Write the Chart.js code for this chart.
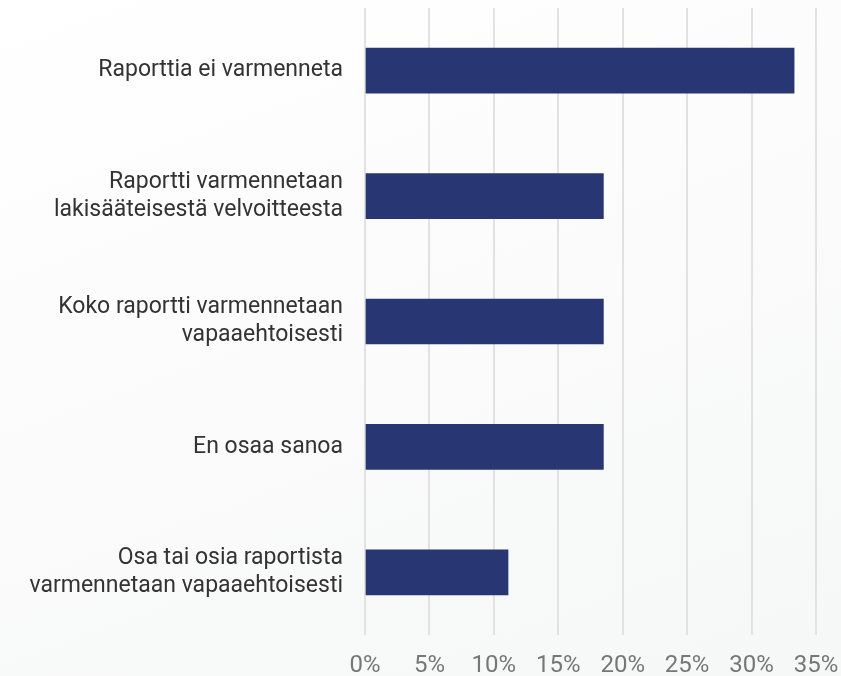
<!DOCTYPE html>
<html>
<head>
<meta charset="utf-8">
<script src="https://cdn.jsdelivr.net/npm/chart.js@4"></script>
<style>
  html, body { margin: 0; padding: 0; }
  body {
    width: 841px; height: 676px;
    background: linear-gradient(160deg, #ffffff 0%, #fbfbfb 50%, #f6f7f7 100%);
  }
  #wrap { position: relative; width: 841px; height: 676px; }
</style>
</head>
<body>
<div id="wrap"><canvas id="surveyChart"></canvas></div>
<script>
// survey answers (share of respondents, %)
const categories = [
    'Raporttia ei varmenneta',
    ['Raportti varmennetaan', 'lakisääteisestä velvoitteesta'],
    ['Koko raportti varmennetaan', 'vapaaehtoisesti'],
    'En osaa sanoa',
    ['Osa tai osia raportista', 'varmennetaan vapaaehtoisesti']
];
const shares = [33.3, 18.5, 18.5, 18.5, 11.1];
const tickLabels = ['0%', '5%', '10%', '15%', '20%', '25%', '30%', '35%'];

var ctx = document.getElementById('surveyChart');

var myChart = new Chart(ctx, {
    type: 'bar',
    data: {
        labels: categories,
        datasets: [{
            label: 'Vastaajat',
            data: shares,
            backgroundColor: '#283673',
            borderWidth: 0,
            barThickness: 45
        }]
    },
    options: {
        indexAxis: 'y',
        responsive: true,
        maintainAspectRatio: false,
        animation: false,
        layout: { padding: { top: 8, right: 0, left: 0, bottom: 0 } },
        plugins: {
            legend: { display: false },
            tooltip: { enabled: false }
        },
        scales: {
            x: {
                min: 0,
                max: 35,
                border: { display: false },
                grid: { color: '#e2e2e2', lineWidth: 2, drawTicks: false },
                afterFit: function (axis) {
                    axis.height = 41;
                    axis.paddingLeft = 0;
                    axis.paddingRight = 25;
                },
                ticks: {
                    stepSize: 5,
                    padding: 17,
                    color: '#777777',
                    font: { family: 'Roboto', size: 24 },
                    callback: function (v, i) { return tickLabels[i]; }
                }
            },
            y: {
                border: { display: false },
                grid: { display: false },
                afterFit: function (axis) {
                    axis.width = 365;
                    axis.paddingTop = 0;
                    axis.paddingBottom = 0;
                },
                ticks: {
                    padding: 14,
                    color: '#333333',
                    font: { family: 'Roboto', size: 23, lineHeight: 1.23 }
                }
            }
        }
    }
});
</script>
</body>
</html>
